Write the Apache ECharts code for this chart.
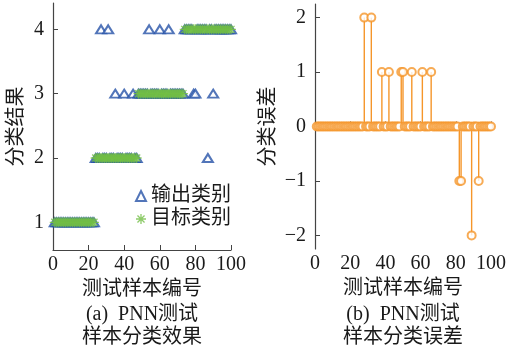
<!DOCTYPE html>
<html><head><meta charset="utf-8">
<script src="https://cdn.jsdelivr.net/npm/echarts@6/dist/echarts.min.js"></script>
<style>html,body{margin:0;padding:0;background:#fff}#c{width:509px;height:351px}</style>
</head><body><div id="c"></div>
<script>
// ---- data ----
const samples = [1,2,3,4,5,6,7,8,9,10,11,12,13,14,15,16,17,18,19,20,21,22,23,24,25,26,27,28,29,30,31,32,33,34,35,36,37,38,39,40,41,42,43,44,45,46,47,48,49,50,51,52,53,54,55,56,57,58,59,60,61,62,63,64,65,66,67,68,69,70,71,72,73,74,75,76,77,78,79,80,81,82,83,84,85,86,87,88,89,90,91,92,93,94,95,96,97,98,99,100];
const targetClass = [
 1,1,1,1,1,1,1,1,1,1,
 1,1,1,1,1,1,1,1,1,1,
 1,1,1,2,2,2,2,2,2,2,
 2,2,2,2,2,2,2,2,2,2,
 2,2,2,2,2,2,2,3,3,3,
 3,3,3,3,3,3,3,3,3,3,
 3,3,3,3,3,3,3,3,3,3,
 3,3,3,4,4,4,4,4,4,4,
 4,4,4,4,4,4,4,4,4,4,
 4,4,4,4,4,4,4,4,4,4];
const outputClass = [
 1,1,1,1,1,1,1,1,1,1,
 1,1,1,1,1,1,1,1,1,1,
 1,1,1,2,2,2,4,2,2,2,
 4,2,2,2,3,2,2,2,2,3,
 2,2,2,2,3,2,2,3,3,3,
 3,3,3,4,3,3,3,3,3,4,
 3,3,3,3,4,3,3,3,3,3,
 3,3,3,4,4,4,4,4,3,3,
 4,4,4,4,4,4,2,4,4,3,
 4,4,4,4,4,4,4,4,4,4];
const errorValues = [
 0,0,0,0,0,0,0,0,0,0,
 0,0,0,0,0,0,0,0,0,0,
 0,0,0,0,0,0,0,2,0,0,
 0,2,0,0,0,0,0,1,0,0,
 0,1,0,0,0,0,0,0,1,1,
 0,0,0,0,1,0,0,0,0,0,
 1,0,0,0,0,1,0,0,0,0,
 0,0,0,0,0,0,0,0,0,0,
 0,-1,-1,0,0,0,0,0,-2,0,
 0,0,-1,0,0,0,0,0,0,0];
const xTicks = [0,20,40,60,80,100];
const classTicks = [1,2,3,4];
const errorTicks = [-2,-1,0,1,2];
const seriesNames = ['输出类别','目标类别'];
const xName = '测试样本编号';
const yNameLeft = '分类结果';
const yNameRight = '分类误差';
const captionA = ['(a)  PNN测试','样本分类效果'];
const captionB = ['(b)  PNN测试','样本分类误差'];

// ---- chart ----
const FONT = "'Liberation Serif','Noto Sans CJK SC',serif";
const TXT = '#1a1a1a';
const AX = '#444444';
const ORANGE = '#F5962A';
const ast = 'path://M-1.3,-10 L1.3,-10 L1.3,10 L-1.3,10 Z M-10,-1.3 L10,-1.3 L10,1.3 L-10,1.3 Z M-6.15,-7.99 L7.99,6.15 L6.15,7.99 L-7.99,-6.15 Z M7.99,-6.15 L-6.15,7.99 L-7.99,6.15 L6.15,-7.99 Z';

function xAxisCfg(gi){
  return {gridIndex:gi,type:'value',min:xTicks[0],max:xTicks[xTicks.length-1],interval:20,
    name:xName,nameLocation:'middle',nameGap:29,
    nameTextStyle:{fontFamily:FONT,fontSize:20,color:TXT},
    axisLine:{show:true,lineStyle:{color:AX,width:1.2}},
    axisTick:{show:true,inside:true,length:5,lineStyle:{color:AX,width:1}},
    axisLabel:{fontFamily:FONT,fontSize:20,color:TXT,margin:5},
    splitLine:{show:false}};
}
const fmtMinus = v => String(v).replace('-','\u2212');

const option = {
  animation:false,
  backgroundColor:'#fff',
  grid:[
    {left:53,top:3,width:178,height:247},
    {left:315,top:4,width:178,height:245}
  ],
  xAxis:[xAxisCfg(0),xAxisCfg(1)],
  yAxis:[
    {gridIndex:0,type:'value',min:0.57,max:4.41,
      name:yNameLeft,nameLocation:'middle',nameGap:26,nameRotate:90,
      nameTextStyle:{fontFamily:FONT,fontSize:20,color:TXT},
      axisLine:{show:true,lineStyle:{color:AX,width:1.2}},
      axisTick:{show:true,inside:true,length:5,customValues:classTicks,lineStyle:{color:AX,width:1}},
      axisLabel:{fontFamily:FONT,fontSize:20,color:TXT,margin:9,customValues:classTicks},
      splitLine:{show:false}},
    {gridIndex:1,type:'value',min:-2.25,max:2.25,
      name:yNameRight,nameLocation:'middle',nameGap:36,nameRotate:90,
      nameTextStyle:{fontFamily:FONT,fontSize:20,color:TXT},
      axisLine:{show:true,lineStyle:{color:AX,width:1.2}},
      axisTick:{show:true,inside:true,length:5,customValues:errorTicks,lineStyle:{color:AX,width:1}},
      axisLabel:{fontFamily:FONT,fontSize:20,color:TXT,margin:9,customValues:errorTicks,formatter:fmtMinus},
      splitLine:{show:false}}
  ],
  legend:{
    left:130,top:181,orient:'vertical',itemGap:3,itemWidth:10,itemHeight:10,
    textStyle:{fontFamily:FONT,fontSize:20,color:TXT,lineHeight:20},
    data:seriesNames
  },
  series:[
    {name:seriesNames[0],type:'scatter',xAxisIndex:0,yAxisIndex:0,
      symbol:'emptyTriangle',symbolSize:[10,8],
      itemStyle:{color:'#2753A8',borderColor:'#2753A8',borderWidth:1.3},
      emphasis:{disabled:true},
      data:samples.map((s,i)=>[s,outputClass[i]])},
    {name:seriesNames[1],type:'scatter',xAxisIndex:0,yAxisIndex:0,
      symbol:ast,symbolSize:10,
      itemStyle:{color:'#72BE45'},
      emphasis:{disabled:true},
      data:samples.map((s,i)=>[s,targetClass[i]])},
    {type:'bar',xAxisIndex:1,yAxisIndex:1,barWidth:1.4,
      itemStyle:{color:ORANGE},silent:true,
      data:samples.map((s,i)=>[s,errorValues[i]])},
    {type:'scatter',xAxisIndex:1,yAxisIndex:1,
      symbol:'emptyCircle',symbolSize:8,
      itemStyle:{color:ORANGE,borderColor:ORANGE,borderWidth:1.3},
      emphasis:{disabled:true},
      data:samples.map((s,i)=>[s,errorValues[i]])}
  ],
  graphic:[
    {type:'text',x:142,y:315,style:{text:captionA[0],align:'center',verticalAlign:'middle',fontFamily:FONT,fontSize:20,fill:TXT}},
    {type:'text',x:142,y:338,style:{text:captionA[1],align:'center',verticalAlign:'middle',fontFamily:FONT,fontSize:20,fill:TXT}},
    {type:'text',x:403,y:315,style:{text:captionB[0],align:'center',verticalAlign:'middle',fontFamily:FONT,fontSize:20,fill:TXT}},
    {type:'text',x:403,y:338,style:{text:captionB[1],align:'center',verticalAlign:'middle',fontFamily:FONT,fontSize:20,fill:TXT}}
  ]
};
const chart = echarts.init(document.getElementById('c'),null,{renderer:'canvas'});
chart.setOption(option);
</script></body></html>
